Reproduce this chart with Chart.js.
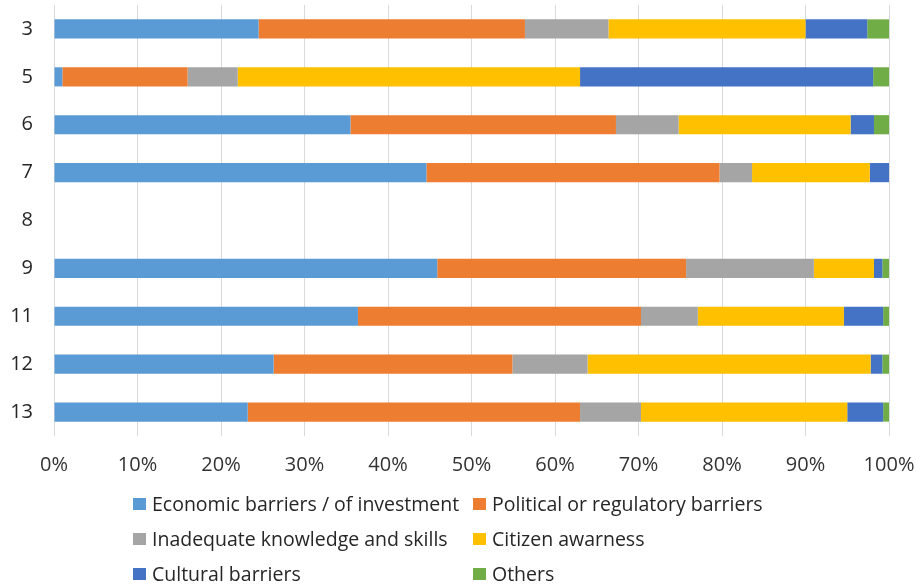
<!DOCTYPE html>
<html>
<head>
<meta charset="utf-8">
<script src="https://cdn.jsdelivr.net/npm/chart.js@4/dist/chart.umd.min.js"></script>
<style>
    body{
        margin: 0;
        background: #fff;
        font-family: "Open Sans", sans-serif;
    }
    .wrap{
        position: relative;
        width: 916px;
        height: 588px;
    }
    #legend{
        position: absolute;
        left: 133px;
        top: 486px;
        display: grid;
        grid-template-columns: 340px auto;
        grid-auto-rows: 35px;
        font-size: 19.5px;
        color: #262626;
    }
    .legend-item{
        display: flex;
        align-items: center;
        white-space: nowrap;
    }
    .legend-box{
        width: 13px;
        height: 12px;
        margin-right: 6px;
    }
</style>
</head>
<body>
<div class="wrap">
    <canvas id="myChart" width="916" height="588"></canvas>
    <div id="legend"></div>
</div>
<script>
const categories = ['3', '5', '6', '7', '8', '9', '11', '12', '13'];

const economic  = [24.5, 1.0, 35.5, 44.6, 0, 45.9, 36.4, 26.3, 23.2];
const political = [31.9, 15.0, 31.8, 35.1, 0, 29.8, 33.9, 28.6, 39.8];
const knowledge = [10.0, 6.0, 7.5, 3.9, 0, 15.3, 6.8, 9.0, 7.3];
const awareness = [23.6, 41.0, 20.6, 14.1, 0, 7.2, 17.5, 33.9, 24.7];
const cultural  = [7.4, 35.1, 2.8, 2.3, 0, 1.0, 4.7, 1.4, 4.3];
const others    = [2.6, 1.9, 1.8, 0, 0, 0.8, 0.7, 0.8, 0.7];

const seriesNames = [
    'Economic barriers / of investment',
    'Political or regulatory barriers',
    'Inadequate knowledge and skills',
    'Citizen awarness',
    'Cultural barriers',
    'Others'
];
const seriesValues = [economic, political, knowledge, awareness, cultural, others];
const seriesColors = ['#5B9BD5', '#ED7D31', '#A5A5A5', '#FFC000', '#4472C4', '#70AD47'];

const tickValues = [0, 10, 20, 30, 40, 50, 60, 70, 80, 90, 100];

// keep the plot box fixed: no extra room for overhanging labels
function fixPadding(scale){
    scale.paddingLeft = 0;
    scale.paddingRight = 0;
    scale.paddingTop = 0;
    scale.paddingBottom = 0;
}

window.onload = () =>{
    const ctx = document.getElementById('myChart').getContext('2d');
    const myChart = new Chart(ctx, {
        type: 'bar',
        data: {
            labels: categories,
            datasets: seriesNames.map((name, i) => ({
                label: name,
                data: seriesValues[i],
                backgroundColor: seriesColors[i],
                borderWidth: 0,
                barPercentage: 0.4,
                categoryPercentage: 1
            }))
        },
        options: {
            indexAxis: 'y',
            responsive: false,
            animation: false,
            layout: {
                padding: { top: 5, right: 27, bottom: 100, left: 0 }
            },
            plugins: {
                legend: { display: false },
                tooltip: { enabled: false }
            },
            scales: {
                x: {
                    stacked: true,
                    min: 0,
                    max: 100,
                    afterBuildTicks: (scale) => {
                        scale.ticks = tickValues.map(v => ({ value: v }));
                    },
                    afterFit: (scale) => {
                        scale.height = 52;
                        fixPadding(scale);
                    },
                    ticks: {
                        padding: 17,
                        color: '#333',
                        font: { family: 'Open Sans', size: 20 },
                        callback: (v) => v + '%'
                    },
                    grid: {
                        color: '#d9d9d9',
                        drawTicks: false
                    },
                    border: { display: false }
                },
                y: {
                    stacked: true,
                    afterFit: (scale) => {
                        scale.width = 54;
                        fixPadding(scale);
                    },
                    ticks: {
                        padding: 21,
                        color: '#262626',
                        font: { family: 'Open Sans', size: 20 }
                    },
                    grid: {
                        display: false,
                        drawTicks: false
                    },
                    border: { display: false }
                }
            }
        }
    });

    // legend in two columns, like the office chart layout
    const legend = document.getElementById('legend');
    seriesNames.forEach((name, i) => {
        const item = document.createElement('div');
        item.className = 'legend-item';
        const box = document.createElement('span');
        box.className = 'legend-box';
        box.style.background = seriesColors[i];
        item.appendChild(box);
        item.appendChild(document.createTextNode(name));
        legend.appendChild(item);
    });
}
</script>
</body>
</html>
